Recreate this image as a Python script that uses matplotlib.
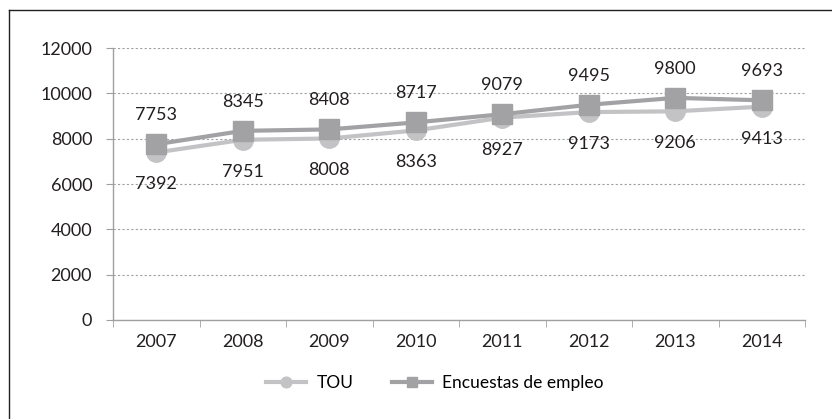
import matplotlib.pyplot as plt
from matplotlib.lines import Line2D

years = ['2007', '2008', '2009', '2010', '2011', '2012', '2013', '2014']
tou = [7392, 7951, 8008, 8363, 8927, 9173, 9206, 9413]
encuestas = [7753, 8345, 8408, 8717, 9079, 9495, 9800, 9693]

plt.rcParams['font.family'] = ['Lato', 'DejaVu Sans']

fig = plt.figure(figsize=(8.32, 4.19), dpi=100)
ax = fig.add_axes([113 / 832, 1 - 320 / 419, (805 - 113) / 832, (320 - 48) / 419])

x = list(range(len(years)))
ax.plot(x, tou, color='#c3c3c5', lw=3, marker='o', ms=14, label='TOU', zorder=3)
ax.plot(x, encuestas, color='#a2a2a4', lw=3, marker='s', ms=14, label='Encuestas de empleo', zorder=4)

for i in x:
    ax.annotate(str(encuestas[i]), (i, encuestas[i]), xytext=(0, 21), textcoords='offset points',
                ha='center', va='center', fontsize=13, color='#231f20')
    ax.annotate(str(tou[i]), (i, tou[i]), xytext=(0, -23), textcoords='offset points',
                ha='center', va='center', fontsize=13, color='#231f20')

ax.set_xlim(-0.5, len(years) - 0.5)
ax.set_ylim(0, 12000)
ax.set_yticks(range(0, 12001, 2000))
ax.set_xticks(x)
ax.set_xticklabels(years)
ax.set_xticks([i - 0.5 for i in range(len(years) + 1)], minor=True)
ax.tick_params(axis='x', which='major', length=0, pad=10, labelsize=13, labelcolor='#231f20')
ax.tick_params(axis='x', which='minor', length=5, color='#a0a0a0')
ax.tick_params(axis='y', length=5, color='#a0a0a0', labelsize=13, labelcolor='#231f20', pad=10)
ax.grid(axis='y', color='#a0a0a0', ls=(0, (2, 2)), lw=0.8)
for s in ['top', 'right']:
    ax.spines[s].set_visible(False)
for s in ['left', 'bottom']:
    ax.spines[s].set_color('#a0a0a0')
    ax.spines[s].set_linewidth(1)

fig.legend(loc='center', bbox_to_anchor=(435 / 832, 1 - 383 / 419), ncol=2, frameon=False,
           fontsize=12.5, handlelength=2.3, handletextpad=0.6, columnspacing=2.2, markerscale=0.55)

# frame of the original page: only top and left edges are visible
fig.lines.append(Line2D([9 / 832, 1], [1 - 10 / 419, 1 - 10 / 419], transform=fig.transFigure,
                        color='#231f20', lw=1))
fig.lines.append(Line2D([9 / 832, 9 / 832], [0, 1 - 10 / 419], transform=fig.transFigure,
                        color='#231f20', lw=1))

fig.savefig('out.png', dpi=100)
